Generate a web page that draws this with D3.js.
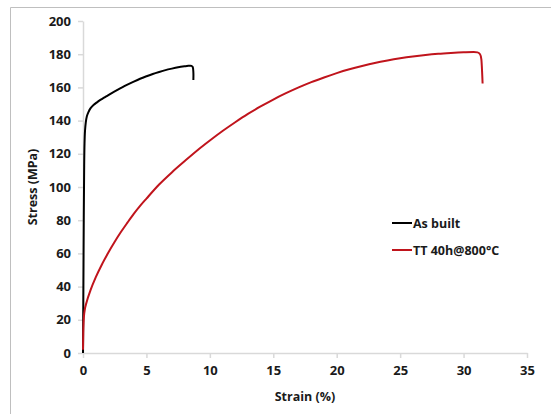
<!DOCTYPE html>
<html><head><meta charset="utf-8">
<script src="https://cdn.jsdelivr.net/npm/d3@7/dist/d3.min.js"></script>
<style>body{margin:0;background:#fff}svg{display:block}</style>
</head><body>
<svg id="c" width="551" height="414"></svg>
<script>
const xTicks = [0,5,10,15,20,25,30,35];
const yTicks = [0,20,40,60,80,100,120,140,160,180,200];
const seriesNames = ["As built", "TT 40h@800°C"];
const asBuiltStrain = [0,0.03,0.06,0.09,0.12,0.16,0.22,0.3,0.42,0.6,0.85,1.1,1.4,1.7,2.0,2.5,3.0,3.5,4.0,4.5,5.0,5.5,6.0,6.5,7.0,7.5,8.0,8.3,8.55,8.65,8.7,8.7];
const asBuiltStress = [0,40,80,110,126,134,139,142.5,145,147.5,149.5,151,152.6,154,155.4,157.6,159.7,161.7,163.5,165.2,166.7,168.1,169.3,170.4,171.3,172.1,172.7,173,173,172.3,169,164.5];
const ttStrain = [0,0.02,0.05,0.1,0.3,0.6,1.0,1.5,2.0,2.5,3.0,3.5,4.0,4.5,5.0,6.0,7.0,8.0,9.0,10,11,12,13,14,15,16,17,18,19,20,21,22,23,24,25,26,27,28,29,30,30.8,31.1,31.3,31.4,31.5];
const ttStress = [2,12,19,24,31,38,45.5,53.5,60.5,67,73,78.5,83.8,88.6,93,101.5,108.8,115.5,122,128,133.7,139,144,148.5,152.7,156.5,160,163.2,166,168.6,170.9,172.9,174.7,176.2,177.5,178.6,179.5,180.2,180.7,181.1,181.3,181.1,180,177,162.4];
const colors = ["#000000", "#c0141c"];

const svg = d3.select("#c");
const font = "'Open Sans', sans-serif";
// frame
svg.append("path").attr("d","M10.5,414 L10.5,7.5 L551,7.5").attr("fill","none").attr("stroke","#bfbfbf").attr("stroke-width",1);

const x = d3.scaleLinear().domain([0,35]).range([83,527]);
const y = d3.scaleLinear().domain([0,200]).range([353,21]);

const xAxis = svg.append("g").attr("transform","translate(0,353)")
  .call(d3.axisBottom(x).tickValues(xTicks).tickSize(5).tickPadding(8).tickSizeOuter(0));
const yAxis = svg.append("g").attr("transform","translate(83,0)")
  .call(d3.axisLeft(y).tickValues(yTicks).tickSize(5).tickPadding(7).tickSizeOuter(0));
[xAxis,yAxis].forEach(a=>{
  a.select(".domain").attr("stroke","#d9d9d9").attr("stroke-width",1.5);
  a.selectAll(".tick line").attr("stroke","#d9d9d9").attr("stroke-width",1.5);
  a.selectAll(".tick text").attr("fill","#1a1a1a").attr("font-family",font).attr("font-weight","bold").attr("font-size",13);
});

svg.append("text").attr("x",305).attr("y",401).attr("text-anchor","middle")
  .attr("font-family",font).attr("font-weight","bold").attr("font-size",12.5).attr("fill","#1a1a1a").text("Strain (%)");
svg.append("text").attr("transform","translate(37,187) rotate(-90)").attr("text-anchor","middle")
  .attr("font-family",font).attr("font-weight","bold").attr("font-size",12.5).attr("fill","#1a1a1a").text("Stress (MPa)");

const data = [asBuiltStrain.map((s,i)=>[s,asBuiltStress[i]]), ttStrain.map((s,i)=>[s,ttStress[i]])];
const curves = [d3.curveCatmullRom.alpha(0.5), d3.curveMonotoneX];
data.forEach((d,i)=>{
  svg.append("path").attr("d",d3.line().x(p=>x(p[0])).y(p=>y(p[1])).curve(curves[i])(d))
    .attr("fill","none").attr("stroke",colors[i]).attr("stroke-width",2).attr("stroke-linejoin","round");
});

// legend
const leg = svg.append("g");
seriesNames.forEach((n,i)=>{
  const yy = 223 + i*27;
  leg.append("line").attr("x1",392).attr("x2",412).attr("y1",yy).attr("y2",yy).attr("stroke",colors[i]).attr("stroke-width",2);
  leg.append("text").attr("x",413).attr("y",yy+4.5).attr("font-family",font).attr("font-weight","bold").attr("font-size",12.5).attr("fill","#1a1a1a").text(n);
});
</script>
</body></html>
